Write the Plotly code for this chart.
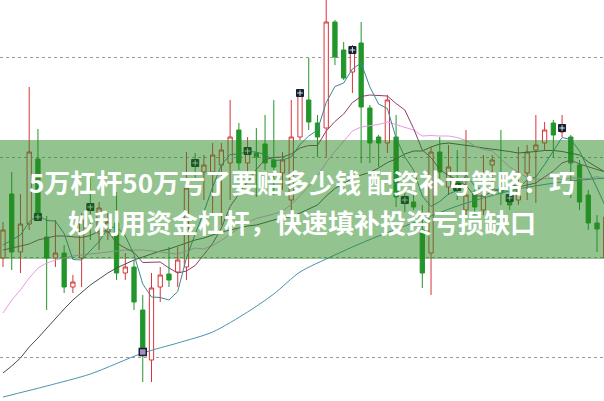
import plotly.graph_objects as go

# ---- candle data (price units; one candle per session) ----
idx = list(range(70))
open_ = [14.84, 16.12, 14.96, 15.52, 16.82, 15.26, 14.84, 14.94, 14.26, 14.84,
         15.90, 15.34, 15.36, 15.54, 14.54, 14.66, 13.80, 12.80, 14.26, 14.52,
         14.56, 14.66, 16.80, 16.56, 16.56, 16.70, 16.74, 17.40, 16.74, 16.94,
         17.12, 16.80, 16.54, 16.00, 17.26, 18.00, 17.54, 17.44, 19.56, 19.00,
         18.56, 19.14, 17.84, 17.26, 17.14, 17.26, 16.04, 15.96, 15.40, 14.94,
         16.96, 16.26, 16.40, 15.80, 16.16, 15.80, 16.70, 16.24, 16.10, 16.00,
         16.54, 17.00, 17.14, 17.54, 17.36, 17.26, 16.70, 16.10, 15.54, 14.84]
close = [15.40, 14.96, 15.52, 16.96, 15.66, 14.84, 14.94, 14.26, 14.36, 15.60,
         15.80, 15.84, 15.56, 14.54, 14.66, 13.96, 12.90, 14.24, 14.50, 14.40,
         14.80, 16.24, 16.68, 16.70, 16.90, 17.00, 17.26, 16.74, 16.96, 16.86,
         16.74, 16.66, 16.80, 17.26, 18.10, 17.56, 17.26, 19.56, 18.86, 18.44,
         19.00, 17.86, 17.14, 17.14, 18.00, 16.06, 15.94, 15.86, 14.54, 16.96,
         16.56, 16.66, 16.24, 16.10, 15.86, 16.10, 16.80, 16.14, 15.90, 16.20,
         16.96, 17.10, 17.40, 17.30, 17.50, 16.74, 15.96, 15.54, 15.42, 15.66]
high = [15.56, 16.56, 16.12, 18.26, 17.42, 15.68, 15.60, 15.10, 14.50, 15.74,
        16.44, 15.96, 15.74, 16.16, 14.94, 14.80, 14.10, 14.54, 14.66, 15.06,
        15.06, 16.96, 16.94, 16.90, 17.14, 17.14, 18.00, 17.54, 17.26, 17.44,
        17.70, 18.00, 16.96, 18.00, 18.20, 18.84, 17.70, 20.20, 19.60, 19.16,
        19.10, 19.56, 17.90, 17.30, 18.10, 17.70, 16.20, 16.10, 15.90, 17.06,
        17.26, 17.10, 17.00, 17.40, 16.30, 16.90, 16.90, 17.40, 16.30, 17.06,
        17.10, 17.70, 17.56, 17.60, 17.70, 17.30, 16.80, 16.20, 15.70, 15.80]
low = [14.66, 14.60, 14.54, 15.40, 15.60, 13.80, 14.66, 14.14, 14.14, 14.26,
       15.20, 15.00, 15.20, 14.40, 14.40, 13.80, 12.36, 12.36, 13.96, 14.26,
       14.26, 14.40, 16.40, 16.00, 15.70, 15.50, 16.00, 16.60, 16.50, 16.06,
       16.60, 16.10, 16.20, 15.46, 17.20, 17.40, 16.86, 16.86, 18.70, 18.40,
       18.14, 16.74, 16.74, 16.66, 16.94, 15.86, 15.76, 15.80, 14.24, 14.10,
       16.40, 16.10, 16.00, 15.70, 15.70, 15.70, 16.10, 15.90, 15.80, 15.90,
       16.00, 15.94, 17.00, 16.86, 17.26, 16.04, 15.80, 15.40, 14.96, 14.70]

# ---- moving averages ----
ma5 = [15.10, 15.20, 15.30, 15.56, 15.70, 15.59, 15.58, 15.33, 14.81, 14.80,
       14.99, 15.17, 15.43, 15.47, 15.28, 14.91, 14.32, 14.06, 14.05, 14.00,
       14.17, 14.84, 15.32, 15.76, 16.26, 16.70, 16.91, 16.92, 16.97, 16.96,
       16.91, 16.79, 16.80, 16.86, 17.11, 17.28, 17.40, 17.95, 18.27, 18.34,
       18.62, 18.74, 18.26, 17.92, 17.83, 17.24, 16.86, 16.60, 16.08, 15.87,
       15.97, 16.12, 16.19, 16.50, 16.28, 16.19, 16.22, 16.20, 16.16, 16.23,
       16.40, 16.46, 16.71, 16.99, 17.25, 17.21, 16.98, 16.61, 16.23, 15.86]
ma10 = [15.00, 15.04, 15.08, 15.12, 15.20, 15.24, 15.28, 15.28, 15.26, 15.25,
        15.29, 15.38, 15.38, 15.14, 15.04, 14.95, 14.75, 14.75, 14.76, 14.64,
        14.54, 14.58, 14.69, 14.91, 15.13, 15.44, 15.87, 16.12, 16.37, 16.61,
        16.81, 16.85, 16.86, 16.92, 17.04, 17.09, 17.09, 17.38, 17.57, 17.72,
        17.95, 18.07, 18.10, 18.09, 18.08, 17.93, 17.80, 17.43, 17.00, 16.85,
        16.61, 16.49, 16.40, 16.29, 16.08, 16.08, 16.17, 16.20, 16.33, 16.26,
        16.30, 16.34, 16.46, 16.58, 16.74, 16.80, 16.72, 16.66, 16.61, 16.56]
ma20 = [13.74, 14.00, 14.20, 14.44, 14.64, 14.74, 14.80, 14.84, 14.88, 14.90,
        14.92, 14.94, 14.96, 14.98, 15.00, 15.00, 15.00, 14.98, 14.96, 14.95,
        14.92, 14.98, 15.04, 15.02, 15.09, 15.19, 15.31, 15.43, 15.56, 15.63,
        15.67, 15.72, 15.78, 15.91, 16.09, 16.27, 16.48, 16.75, 16.97, 17.17,
        17.38, 17.46, 17.48, 17.51, 17.56, 17.51, 17.45, 17.40, 17.28, 17.29,
        17.28, 17.28, 17.25, 17.19, 17.08, 17.01, 16.98, 16.81, 16.66, 16.55,
        16.45, 16.41, 16.43, 16.43, 16.41, 16.44, 16.44, 16.43, 16.47, 16.41]
ma30 = [12.54, 12.68, 12.84, 13.06, 13.24, 13.44, 13.64, 13.82, 14.00, 14.16,
        14.30, 14.42, 14.54, 14.64, 14.72, 14.80, 14.86, 14.92, 14.98, 15.02,
        15.08, 15.14, 15.20, 15.24, 15.30, 15.36, 15.40, 15.44, 15.48, 15.50,
        15.55, 15.60, 15.65, 15.66, 15.74, 15.83, 15.90, 16.08, 16.23, 16.33,
        16.43, 16.50, 16.55, 16.64, 16.75, 16.82, 16.92, 16.98, 16.98, 17.06,
        17.12, 17.14, 17.12, 17.10, 17.07, 17.04, 17.02, 17.00, 16.97, 16.94,
        16.95, 16.97, 16.99, 16.99, 16.97, 16.94, 16.90, 16.76, 16.65, 16.55]
ma60_idx = [0, 5, 10, 16, 20, 24, 28, 31, 34, 37, 40, 43, 46, 49, 52, 55, 59, 64, 69]
ma60 = [12.06, 12.28, 12.52, 12.94, 13.14, 13.36, 13.76, 14.12, 14.56, 14.82,
        15.06, 15.28, 15.48, 15.68, 15.88, 16.04, 16.22, 16.36, 16.44]

# ---- signal markers ----
mark_idx = [4, 10, 22, 28, 34, 40, 46, 52, 58, 64]
mark_val = [15.66, 15.86, 16.74, 16.98, 18.14, 19.00, 16.00, 16.26, 16.04, 17.44]
special_idx = [16]
special_val = [12.96]

title_line1 = "5万杠杆50万亏了要赔多少钱 配资补亏策略：巧"
title_line2 = "妙利用资金杠杆，快速填补投资亏损缺口"

RED = "#d8353b"
GREEN = "#22962a"

fig = go.Figure()
fig.add_trace(go.Candlestick(
    x=idx, open=open_, high=high, low=low, close=close,
    increasing=dict(line=dict(color=RED, width=1), fillcolor="white"),
    decreasing=dict(line=dict(color=GREEN, width=1), fillcolor=GREEN),
    whiskerwidth=0, showlegend=False, hoverinfo="skip"))

line_specs = [
    (idx, ma30, "#474f47"),
    (idx, ma20, "#e79be6"),
    (idx, ma10, "#8e3d6b"),
    (idx, ma5, "#3d8796"),
]
for xs, ys, col in line_specs:
    fig.add_trace(go.Scatter(x=xs, y=ys, mode="lines",
                             line=dict(color=col, width=1),
                             showlegend=False, hoverinfo="skip"))
fig.add_trace(go.Scatter(x=ma60_idx, y=ma60, mode="lines",
                         line=dict(color="#4a93ae", width=1, shape="spline", smoothing=0.8),
                         showlegend=False, hoverinfo="skip"))

fig.add_trace(go.Scatter(x=mark_idx, y=mark_val, mode="markers",
                         marker=dict(symbol="square", size=7, color="#15212c",
                                     line=dict(color="#15212c", width=1)),
                         showlegend=False, hoverinfo="skip"))
fig.add_trace(go.Scatter(x=mark_idx, y=mark_val, mode="markers",
                         marker=dict(symbol="cross-thin", size=4,
                                     line=dict(color="#d8ecf4", width=1)),
                         showlegend=False, hoverinfo="skip"))
fig.add_trace(go.Scatter(x=special_idx, y=special_val, mode="markers",
                         marker=dict(symbol="square", size=7, color="#a58ac8",
                                     line=dict(color="#15212c", width=1.5)),
                         showlegend=False, hoverinfo="skip"))

fig.add_shape(type="rect", xref="paper", yref="paper", x0=0, x1=1,
              y0=1 - 259 / 401, y1=1 - 140 / 401, layer="above",
              line=dict(width=0), fillcolor="rgba(40,135,30,0.5)")

for txt, yy in [(title_line1, 1 - 182 / 401), (title_line2, 1 - 221 / 401)]:
    fig.add_annotation(x=0.5, y=yy, xref="paper", yref="paper",
                       text=txt, showarrow=False, xanchor="center", yanchor="middle",
                       font=dict(family="Noto Sans CJK SC", size=26, color="white",
                                 weight="bold"))

fig.update_layout(
    width=604, height=401, margin=dict(l=0, r=0, t=0, b=0),
    paper_bgcolor="white", plot_bgcolor="white",
    xaxis=dict(range=[-0.343, 68.8], showgrid=False, showticklabels=False,
               zeroline=False, rangeslider=dict(visible=False), fixedrange=True),
    yaxis=dict(range=[11.98, 20.0], tick0=18.86, dtick=2, showgrid=True,
               gridcolor="#9a9a9a", griddash="dot", gridwidth=1,
               showticklabels=False, zeroline=False, fixedrange=True),
)

fig.write_html("out.html", config={"displayModeBar": False},
               post_script="document.body.style.margin='0';document.body.style.overflow='hidden';")
